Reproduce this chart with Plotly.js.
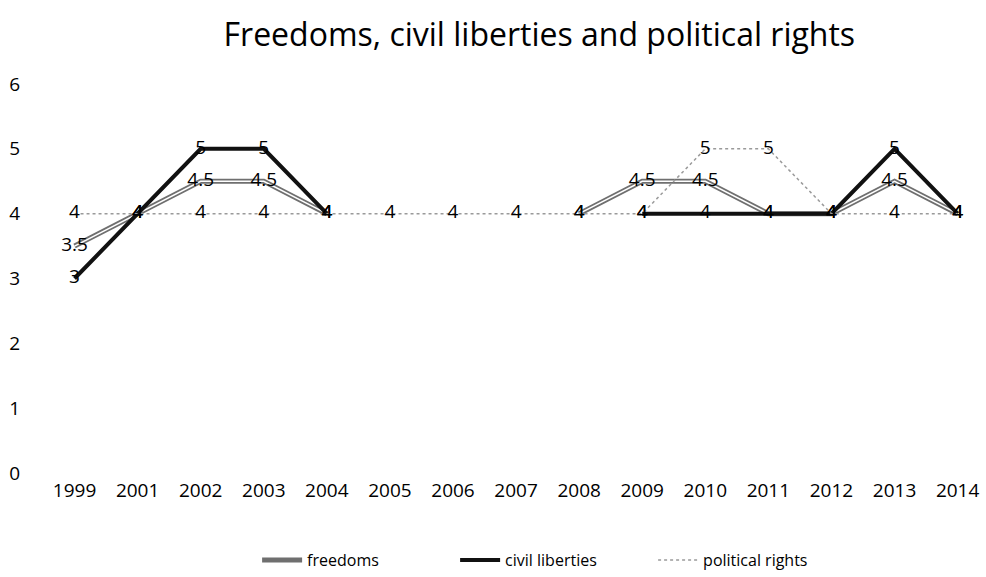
<!DOCTYPE html>
<html>
<head>
<meta charset="utf-8">
<script src="https://cdn.plot.ly/plotly-3.0.1.min.js"></script>
<style>
  html, body { margin: 0; padding: 0; background: #fff; }
  #chart { width: 986px; height: 577px; }
</style>
</head>
<body>
<div id="chart"></div>
<script>
// Years on the category axis
const years = ['1999','2001','2002','2003','2004','2005','2006','2007','2008','2009','2010','2011','2012','2013','2014'];

// Ratings per year (null = no rating published that year)
const freedoms        = [3.5, 4, 4.5, 4.5, 4, null, null, null, 4,    4.5, 4.5, 4, 4, 4.5, 4];
const civilLiberties  = [3,   4, 5,   5,   4, null, null, null, null, 4,   4,   4, 4, 5,   4];
const politicalRights = [4,   4, 4,   4,   4, 4,    4,    4,    4,    4,   5,   5, 4, 4,   4];

const yTicks = [0, 1, 2, 3, 4, 5, 6];

const FONT = '"Open Sans", "Noto Sans", sans-serif';
const fmt = v => (v === null ? '' : String(v));

const labelFont = { family: FONT, size: 19, color: '#000' };

const traces = [
  // freedoms: grey double line (outer grey, inner white stripe)
  {
    x: years, y: freedoms, name: 'freedoms', type: 'scatter', mode: 'lines',
    line: { color: '#6f6f6f', width: 5 }, legendgroup: 'f', showlegend: true
  },
  {
    x: years, y: freedoms, name: 'freedoms', type: 'scatter', mode: 'lines+text',
    line: { color: '#ffffff', width: 1.5 }, legendgroup: 'f', showlegend: false,
    text: freedoms.map(fmt), textposition: 'middle center', textfont: labelFont
  },
  // civil liberties: heavy black line
  {
    x: years, y: civilLiberties, name: 'civil liberties', type: 'scatter', mode: 'lines+text',
    line: { color: '#111111', width: 4 },
    text: civilLiberties.map(fmt), textposition: 'middle center', textfont: labelFont
  },
  // political rights: fine dotted grey line
  {
    x: years, y: politicalRights, name: 'political rights', type: 'scatter', mode: 'lines+text',
    line: { color: '#9a9a9a', width: 1.5, dash: 'dot' },
    text: politicalRights.map(fmt), textposition: 'middle center', textfont: labelFont
  }
];

const layout = {
  width: 986, height: 577,
  paper_bgcolor: '#fff', plot_bgcolor: '#fff',
  margin: { l: 43, r: 0, t: 84, b: 100 },
  font: { family: FONT, size: 19, color: '#000' },
  title: {
    text: 'Freedoms, civil liberties and political rights',
    font: { family: FONT, size: 32, color: '#000' },
    x: 0.547, xanchor: 'center', y: 0.94, yanchor: 'middle'
  },
  xaxis: {
    type: 'category', range: [-0.5, 14.45],
    showgrid: false, zeroline: false, showline: false, ticks: '',
    tickfont: { family: FONT, size: 19, color: '#000' },
    ticklabelstandoff: 4
  },
  yaxis: {
    range: [0, 6], tickvals: yTicks, ticktext: yTicks.map(String),
    showgrid: false, zeroline: false, showline: false, ticks: '',
    tickfont: { family: FONT, size: 19, color: '#000' },
    ticklabelstandoff: 22
  },
  showlegend: true,
  legend: {
    orientation: 'h', x: 0.542, xanchor: 'center', y: -0.224, yanchor: 'middle',
    font: { family: FONT, size: 16, color: '#000' },
    traceorder: 'normal', itemwidth: 40,
    entrywidth: 143, entrywidthmode: 'pixels'
  }
};

Plotly.newPlot('chart', traces, layout, { staticPlot: true, displayModeBar: false });
</script>
</body>
</html>
